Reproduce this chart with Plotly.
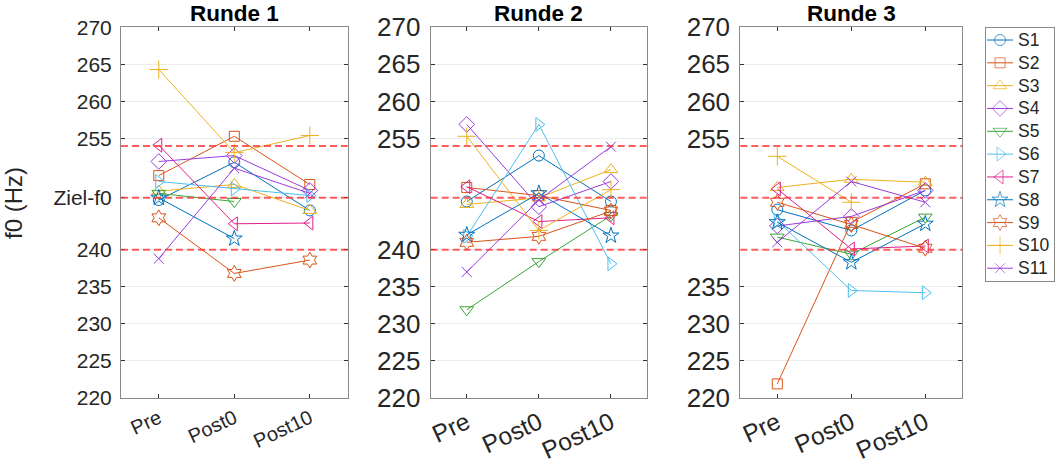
import plotly.graph_objects as go

# ---------------- data ----------------
phases = ["Pre", "Post0", "Post10"]
phase_pos = [1, 2, 3]
subjects = ["S1", "S2", "S3", "S4", "S5", "S6", "S7", "S8", "S9", "S10", "S11"]

round1 = {
    "S1": [246.7, 251.8, 245.3],
    "S2": [250.0, 255.3, 248.8],
    "S3": [247.9, 248.8, 245.3],
    "S4": [251.9, 252.7, 248.0],
    "S5": [247.6, 246.5, None],
    "S6": [249.2, 248.2, 247.3],
    "S7": [254.1, 243.5, 243.6],
    "S8": [247.0, 241.5, None],
    "S9": [244.3, 236.8, 238.6],
    "S10": [264.3, 253.1, 255.4],
    "S11": [238.8, 251.0, 247.6],
}
round2 = {
    "S1": [246.5, 252.7, 246.5],
    "S2": [248.4, 247.3, 245.3],
    "S3": [246.1, 247.0, 250.8],
    "S4": [256.9, 245.8, 249.2],
    "S5": [231.9, 238.4, 244.6],
    "S6": [241.8, 256.9, 238.1],
    "S7": [248.5, 243.8, 244.3],
    "S8": [242.0, 247.6, 241.9],
    "S9": [241.0, 241.8, 245.2],
    "S10": [255.3, 242.6, 248.1],
    "S11": [237.0, 246.7, 253.9],
}
round3 = {
    "S1": [245.4, 242.6, 248.0],
    "S2": [221.9, 243.7, 248.9],
    "S3": [248.4, 249.5, 249.1],
    "S4": [243.2, 244.5, 248.0],
    "S5": [241.7, 239.4, 244.4],
    "S6": [243.9, 234.5, 234.2],
    "S7": [248.2, 240.1, 240.5],
    "S8": [243.7, 238.3, 243.5],
    "S9": [246.4, 243.4, 240.2],
    "S10": [252.6, 246.4, None],
    "S11": [241.0, 249.2, 246.4],
}
rounds = [round1, round2, round3]
round_titles = ["Runde 1", "Runde 2", "Runde 3"]

target_f0 = 247
band_lines = [240, 247, 254]

ytick_vals = [
    [220, 225, 230, 235, 240, 247, 255, 260, 265, 270],
    [220, 225, 230, 235, 240, 255, 260, 265, 270],
    [220, 225, 230, 235, 255, 260, 265, 270],
]
ytick_text = [
    ["220", "225", "230", "235", "240", "Ziel-f0", "255", "260", "265", "270"],
    ["220", "225", "230", "235", "240", "255", "260", "265", "270"],
    ["220", "225", "230", "235", "255", "260", "265", "270"],
]

# ---------------- styles ----------------
colors = ["#0072BD", "#D95319", "#EDB120", "#9A3CDC", "#3AA63A", "#4DBEEE",
          "#E0208C", "#0072BD", "#D95319", "#EDB120", "#9A3CDC"]
symbols = ["circle-open", "square-open", "triangle-up-open", "diamond-open",
           "triangle-down-open", "triangle-right-open", "triangle-left-open",
           "star-open", "hexagram-open", "cross-thin-open", "x-thin-open"]
sizes = [11, 10, 12, 12, 12, 12, 12, 12, 12, 13, 10]

FONT = "Liberation Sans, Arial, sans-serif"
TXT = "#262626"
W, H = 1056, 467
x_dom = [(121 / W, 347.6 / W), (430.7 / W, 647 / W), (740.3 / W, 962.3 / W)]
y_dom = (1 - 398 / H, 1 - 27.3 / H)
ytick_font_sizes = [21, 26, 26]
xtick_font_sizes = [20, 24.5, 24.5]

# legend box (custom, drawn in its own small axes)
leg_x_dom = (985.7 / W, 1054 / W)
leg_y_dom = (1 - 281 / H, 1 - 27.7 / H)

fig = go.Figure()
for p, rd in enumerate(rounds):
    xa = "x" if p == 0 else f"x{p + 1}"
    ya = "y" if p == 0 else f"y{p + 1}"
    for i, s in enumerate(subjects):
        fig.add_trace(go.Scatter(
            x=phase_pos, y=rd[s], mode="lines+markers", name=s,
            legendgroup=s, showlegend=False,
            xaxis=xa, yaxis=ya,
            line=dict(color=colors[i], width=1),
            marker=dict(symbol=symbols[i], size=sizes[i], color=colors[i],
                        line=dict(color=colors[i], width=1)),
            connectgaps=False,
        ))
    for v in band_lines:
        fig.add_shape(type="line", xref=f"{xa} domain", yref=ya,
                      x0=0, x1=1, y0=v, y1=v, layer="above",
                      line=dict(color="rgba(255,40,40,0.75)", width=2, dash="7px,4px"))

# legend entries
for i, s in enumerate(subjects):
    fig.add_trace(go.Scatter(
        x=[0.02, 0.21, 0.40], y=[i + 1, i + 1, i + 1], mode="lines+markers",
        xaxis="x4", yaxis="y4", showlegend=False, hoverinfo="skip",
        line=dict(color=colors[i], width=1),
        marker=dict(symbol=symbols[i], size=[0, sizes[i], 0], color=colors[i],
                    line=dict(color=colors[i], width=1)),
    ))
    fig.add_annotation(
        text=s, xref="x4", yref="y4", x=0.44, y=i + 1, xanchor="left",
        yanchor="middle", showarrow=False,
        font=dict(size=17.5, family=FONT, color=TXT),
    )

layout = dict(
    width=W, height=H,
    margin=dict(l=0, r=0, t=0, b=0, autoexpand=False),
    paper_bgcolor="white", plot_bgcolor="white",
    font=dict(family=FONT, color=TXT),
    showlegend=False,
)
for p in range(3):
    xk = "xaxis" if p == 0 else f"xaxis{p + 1}"
    yk = "yaxis" if p == 0 else f"yaxis{p + 1}"
    ya_anchor = "y" if p == 0 else f"y{p + 1}"
    xa_anchor = "x" if p == 0 else f"x{p + 1}"
    layout[xk] = dict(
        domain=list(x_dom[p]), anchor=ya_anchor, range=[0.5, 3.5],
        tickmode="array", tickvals=phase_pos, ticktext=phases,
        tickangle=-25, ticks="inside", ticklen=4, tickcolor="#333333",
        showline=True, linecolor="#8A8A8A", linewidth=1, mirror="ticks",
        showgrid=False, zeroline=False, automargin=False,
        tickfont=dict(size=xtick_font_sizes[p], family=FONT, color=TXT),
    )
    layout[yk] = dict(
        domain=list(y_dom), anchor=xa_anchor, range=[220, 270],
        tickmode="array", tickvals=ytick_vals[p], ticktext=ytick_text[p],
        ticks="inside", ticklen=4, tickcolor="#333333",
        showline=True, linecolor="#8A8A8A", linewidth=1, mirror="ticks",
        showgrid=True, gridcolor="#EBEBEB", gridwidth=1, zeroline=False,
        automargin=False,
        tickfont=dict(size=ytick_font_sizes[p], family=FONT, color=TXT),
        ticklabelstandoff=4,
    )
layout["xaxis4"] = dict(domain=list(leg_x_dom), anchor="y4", range=[0, 1],
                        showline=True, linecolor="#8A8A8A", linewidth=1, mirror=True,
                        showgrid=False, zeroline=False, showticklabels=False,
                        ticks="", fixedrange=True, automargin=False)
layout["yaxis4"] = dict(domain=list(leg_y_dom), anchor="x4", range=[11.56, 0.46],
                        showline=True, linecolor="#8A8A8A", linewidth=1, mirror=True,
                        showgrid=False, zeroline=False, showticklabels=False,
                        ticks="", fixedrange=True, automargin=False)
fig.update_layout(**layout)

for p in range(3):
    fig.add_annotation(
        text=f"<b>{round_titles[p]}</b>", xref="paper", yref="paper",
        x=(x_dom[p][0] + x_dom[p][1]) / 2, y=1.0,
        xanchor="center", yanchor="top", showarrow=False, borderpad=0,
        font=dict(size=22.5, family=FONT, color="#000000"),
    )
fig.add_annotation(
    text="f0 (Hz)", xref="paper", yref="paper", x=14 / W, y=1 - 203 / H,
    xanchor="center", yanchor="middle", showarrow=False, textangle=-90,
    font=dict(size=24, family=FONT, color=TXT),
)

fig.write_html(
    "out.html",
    config={"displayModeBar": False, "staticPlot": True},
    post_script="document.body.style.margin='0';document.body.style.padding='0';"
                "document.body.style.overflow='hidden';",
)
